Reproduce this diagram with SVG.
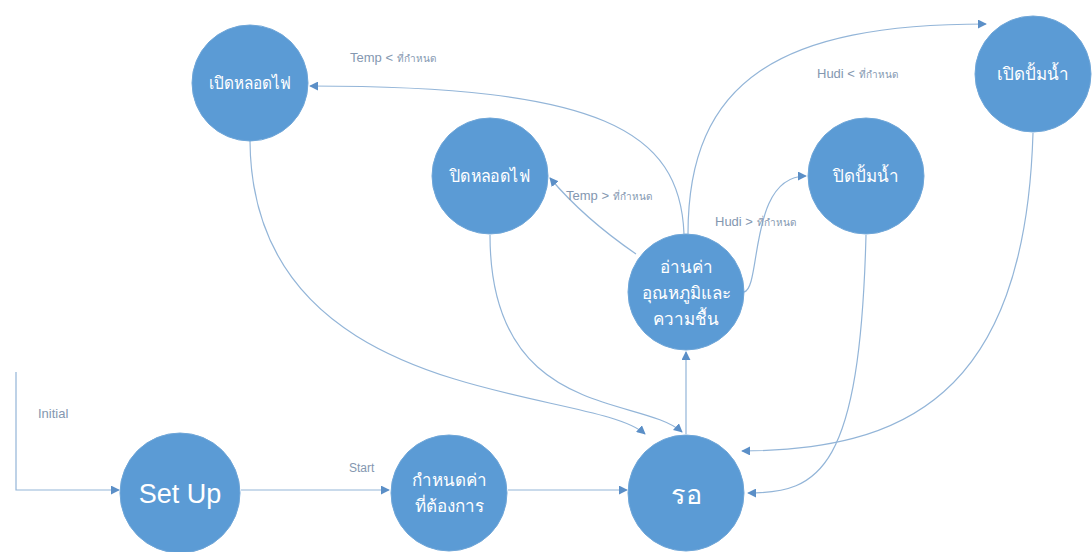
<svg xmlns="http://www.w3.org/2000/svg" width="1092" height="552" viewBox="0 0 1092 552">
  <style>
    .node { fill: #5B9BD5; stroke: #6FA6D8; stroke-width: 1; }
    .conn { fill: none; stroke: #93B5D8; stroke-width: 1.2; }
    .nt { font-family: "Noto Sans", "Liberation Sans", "DejaVu Sans", sans-serif; fill: #FFFFFF; text-anchor: middle; font-size: 17px; }
    .big { font-family: "Liberation Sans", "Noto Sans", sans-serif; font-size: 27px; }
    .lbl { font-family: "Liberation Sans", "Noto Sans", sans-serif; fill: #8497B0; font-size: 13px; }
    .lbl .th { font-family: "Noto Sans", "DejaVu Sans", sans-serif; font-size: 10px; }
  </style>
  <defs>
    <marker id="arr" viewBox="0 0 10 10" refX="9" refY="5" markerWidth="9" markerHeight="9" markerUnits="userSpaceOnUse" orient="auto">
      <path d="M0,0 L10,5 L0,10 z" fill="#5B8FC7"/>
    </marker>
  </defs>
  <rect width="1092" height="552" fill="#FFFFFF"/>

  <!-- connectors -->
  <g id="connectors">
    <path class="conn" d="M16,372 L16,490 L119,490" marker-end="url(#arr)"/>
    <path class="conn" d="M241,490 L389,490" marker-end="url(#arr)"/>
    <path class="conn" d="M508,490 L627,490" marker-end="url(#arr)"/>
    <path class="conn" d="M686,434 L686,352" marker-end="url(#arr)"/>
    <path class="conn" d="M684,234 C680,130 600,86 310,86" marker-end="url(#arr)"/>
    <path class="conn" d="M688,234 C688,80 780,24 986,24" marker-end="url(#arr)"/>
    <path class="conn" d="M636,254 C604,232 572,204 550,178" marker-end="url(#arr)"/>
    <path class="conn" d="M744,292 C762,288 748,176 806,176" marker-end="url(#arr)"/>
    <path class="conn" d="M250,141 C252,410 590,385 645,434" marker-end="url(#arr)"/>
    <path class="conn" d="M490,235 C490,420 640,395 682,432" marker-end="url(#arr)"/>
    <path class="conn" d="M1033,133 C1025,400 900,450 742,451" marker-end="url(#arr)"/>
    <path class="conn" d="M866,235 C860,470 820,493 748,493" marker-end="url(#arr)"/>
  </g>

  <!-- connector labels -->
  <g id="labels">
    <text class="lbl" x="38" y="418">Initial</text>
    <text class="lbl" x="349" y="472" style="font-size:12px">Start</text>
    <text class="lbl" x="350" y="62">Temp &lt; <tspan class="th">ที่กำหนด</tspan></text>
    <text class="lbl" x="817" y="78">Hudi &lt; <tspan class="th">ที่กำหนด</tspan></text>
    <text class="lbl" x="566" y="200">Temp &gt; <tspan class="th">ที่กำหนด</tspan></text>
    <text class="lbl" x="715" y="226">Hudi &gt; <tspan class="th">ที่กำหนด</tspan></text>
  </g>

  <g id="n-lamp-on">
    <circle class="node" cx="250" cy="83" r="58"/>
    <text class="nt" x="250" y="89" textLength="82" lengthAdjust="spacingAndGlyphs">เปิดหลอดไฟ</text>
  </g>
  <g id="n-lamp-off">
    <circle class="node" cx="490" cy="176" r="58"/>
    <text class="nt" x="490" y="182" textLength="80" lengthAdjust="spacingAndGlyphs">ปิดหลอดไฟ</text>
  </g>
  <g id="n-pump-on">
    <circle class="node" cx="1033" cy="74" r="58"/>
    <text class="nt" x="1033" y="80">เปิดปั้มน้ำ</text>
  </g>
  <g id="n-pump-off">
    <circle class="node" cx="866" cy="176" r="58"/>
    <text class="nt" x="866" y="182">ปิดปั้มน้ำ</text>
  </g>
  <g id="n-read">
    <circle class="node" cx="686" cy="292" r="58"/>
    <text class="nt" x="686" y="273">อ่านค่า</text>
    <text class="nt" x="686" y="299">อุณหภูมิและ</text>
    <text class="nt" x="686" y="325">ความชื้น</text>
  </g>
  <g id="n-setup">
    <circle class="node" cx="180" cy="493" r="60"/>
    <text class="nt big" x="180" y="503">Set Up</text>
  </g>
  <g id="n-config">
    <circle class="node" cx="449" cy="493" r="58"/>
    <text class="nt" x="449" y="486">กำหนดค่า</text>
    <text class="nt" x="449" y="512">ที่ต้องการ</text>
  </g>
  <g id="n-wait">
    <circle class="node" cx="686" cy="493" r="58"/>
    <text class="nt big" x="686" y="504">รอ</text>
  </g>
</svg>
